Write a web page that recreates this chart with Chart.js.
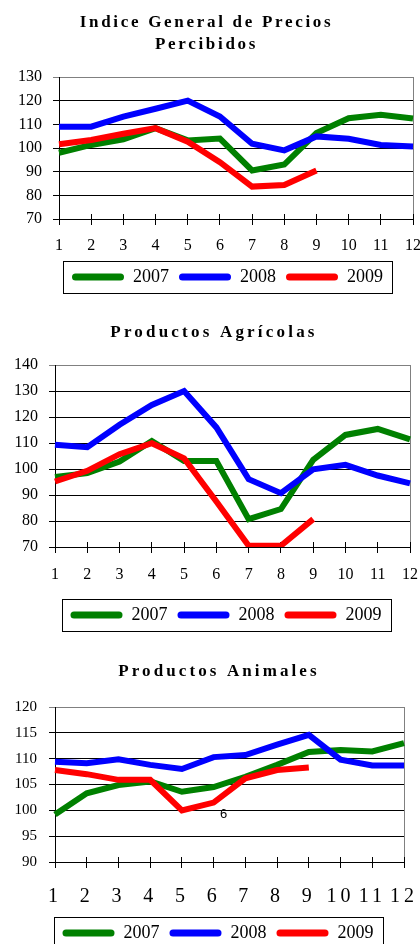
<!DOCTYPE html>
<html>
<head>
<meta charset="utf-8">
<script src="https://cdn.jsdelivr.net/npm/chart.js@4.4.1/dist/chart.umd.min.js"></script>
<style>
  body { margin: 0; background: #fff; width: 420px; height: 944px; overflow: hidden; position: relative; }
  .wrap { position: absolute; left: 0; width: 420px; }
</style>
</head>
<body>
<div class="wrap" style="top:0;height:305px"><canvas id="general"></canvas></div>
<div class="wrap" style="top:305px;height:330px"><canvas id="agricolas"></canvas></div>
<div class="wrap" style="top:635px;height:320px"><canvas id="animales"></canvas></div>
<script>
var months = ['1', '2', '3', '4', '5', '6', '7', '8', '9', '10', '11', '12'];
var years = ['2007', '2008', '2009'];
var colors = ['#008000', '#0000ff', '#ff0000'];

// Indice General de Precios Percibidos
var general2007 = [98, 101.3, 103.7, 108.4, 103.2, 104, 90.5, 93, 106.3, 112.6, 114, 112.5];
var general2008 = [109, 109, 113.3, 116.6, 120, 113.3, 101.8, 99, 104.9, 103.9, 101.3, 100.6];
var general2009 = [101.6, 103.4, 106, 108.4, 102.7, 94, 83.7, 84.4, 90.5, null, null, null];

// Productos Agricolas
var agri2007 = [96.9, 98.4, 102.9, 110.8, 103.1, 103.1, 80.7, 84.6, 103.5, 113.1, 115.4, 111.4];
var agri2008 = [109.3, 108.4, 117, 124.6, 130, 116, 96.1, 90.7, 99.9, 101.6, 97.5, 94.5];
var agri2009 = [95.2, 99.3, 105.7, 109.9, 104.1, 87.5, 70.5, 70.5, 80.7, null, null, null];

// Productos Animales
var anim2007 = [99.2, 103.3, 104.9, 105.6, 103.6, 104.5, 106.5, 108.8, 111.3, 111.7, 111.4, 113];
var anim2008 = [109.4, 109.1, 109.9, 108.8, 108, 110.3, 110.7, 112.7, 114.6, 109.8, 108.7, 108.7];
var anim2009 = [107.8, 107, 105.9, 105.9, 100, 101.5, 106.2, 107.8, 108.3, null, null, null];

var generalTicks = [70, 130, 10];
var agriTicks = [70, 140, 10];
var animTicks = [90, 120, 5];

Chart.defaults.font.family = 'Liberation Serif';
Chart.defaults.color = '#000';
Chart.defaults.animation = false;

function withSpacing(obj, fn, px) {
  if (!obj || !px || obj['_sp_' + fn]) return;
  var orig = obj[fn];
  obj[fn] = function () {
    var ctx = this.ctx;
    ctx.letterSpacing = px + 'px';
    orig.apply(this, arguments);
    ctx.letterSpacing = '0px';
  };
  obj['_sp_' + fn] = true;
}

// shifts title/legend sideways and adds letter spacing like the scanned original
var tweaks = {
  id: 'tweaks',
  afterLayout: function (chart, args, o) {
    if (o.title) { chart.titleBlock.left += o.title; chart.titleBlock.right += o.title; }
    if (o.legend) { chart.legend.left += o.legend; chart.legend.right += o.legend; }
    withSpacing(chart.titleBlock, 'draw', o.titleSpacing);
    withSpacing(chart.scales.x, 'drawLabels', o.xSpacing);
  },
  beforeDatasetsDraw: function (chart) {
    var a = chart.chartArea, ctx = chart.ctx, x = chart.scales.x;
    ctx.save();
    ctx.lineWidth = 1;
    ctx.strokeStyle = '#808080';
    var rx = Math.round(a.right - 0.5) + 0.5;
    ctx.beginPath();
    ctx.moveTo(rx, a.top);
    ctx.lineTo(rx, a.bottom);
    ctx.stroke();
    ctx.strokeStyle = '#000';
    ctx.beginPath();
    for (var i = 0; i < x.ticks.length; i++) {
      var px = Math.round(x.getPixelForTick(i) - 0.5) + 0.5;
      ctx.moveTo(px, a.bottom - 5);
      ctx.lineTo(px, a.bottom);
    }
    ctx.stroke();
    ctx.restore();
  },
  afterDraw: function (chart, args, o) {
    var boxes = chart.legend.legendHitBoxes, ctx = chart.ctx;
    if (boxes && boxes.length) {
      var l = Math.min.apply(null, boxes.map(function (b) { return b.left; }));
      var r = Math.max.apply(null, boxes.map(function (b) { return b.left + b.width; }));
      var t = boxes[0].top, h = boxes[0].height;
      ctx.save();
      ctx.strokeStyle = '#000';
      ctx.lineWidth = 1;
      ctx.strokeRect(Math.round(l - 9) + 0.5, Math.round(t - 7) + 0.5, Math.round(r - l + 18), Math.round(h + 14));
      ctx.restore();
    }
    if (o.note) {
      var xs = chart.scales.x, ys = chart.scales.y;
      ctx.save();
      ctx.font = '13px "Liberation Sans"';
      ctx.fillStyle = '#000';
      ctx.textAlign = 'center';
      ctx.textBaseline = 'middle';
      ctx.fillText(o.note.text, xs.getPixelForValue(o.note.x) + 10, ys.getPixelForValue(o.note.y));
      ctx.restore();
    }
  }
};

function makeChart(id, title, series, ticks, lay) {
  var datasets = series.map(function (values, i) {
    return {
      label: years[i],
      data: values,
      borderColor: colors[i],
      backgroundColor: colors[i],
      borderWidth: 6,
      pointRadius: 0,
      tension: 0,
      fill: false,
      order: 2 - i
    };
  });
  return new Chart(document.getElementById(id), {
    type: 'line',
    data: { labels: months, datasets: datasets },
    plugins: [tweaks],
    options: {
      responsive: true,
      maintainAspectRatio: false,
      layout: { padding: { left: 0, right: lay.right, top: 0, bottom: lay.bottom } },
      plugins: {
        tooltip: { enabled: false },
        title: {
          display: true,
          text: title,
          font: { size: 17, weight: 'bold', lineHeight: 1.25 },
          color: '#000',
          padding: { top: lay.titleTop, bottom: lay.titleBottom }
        },
        legend: {
          position: 'bottom',
          labels: {
            boxWidth: 52,
            boxHeight: 7,
            padding: 10,
            useBorderRadius: true,
            borderRadius: 3.5,
            font: { size: 18 },
            color: '#000',
            sort: function (a, b) { return a.datasetIndex - b.datasetIndex; },
            generateLabels: function (c) {
              return Chart.defaults.plugins.legend.labels.generateLabels(c).map(function (l) {
                l.lineWidth = 0;
                l.fillStyle = l.strokeStyle;
                return l;
              });
            }
          }
        },
        tweaks: lay.tweaks
      },
      scales: {
        x: {
          offset: false,
          grid: { drawOnChartArea: false, drawTicks: true, tickLength: 6, color: '#000' },
          border: { color: '#000', width: 1 },
          ticks: { font: { size: lay.xFont }, color: '#000', padding: lay.xPad, maxRotation: 0, autoSkip: false },
          afterFit: function (s) { s.height = lay.xHeight; s.paddingLeft = 0; s.paddingRight = 0; }
        },
        y: {
          min: ticks[0],
          max: ticks[1],
          grid: {
            color: function (c) { return c.tick && c.tick.value === ticks[1] ? '#808080' : '#000'; },
            tickLength: 6,
            lineWidth: 1
          },
          border: { color: '#000', width: 1 },
          ticks: { stepSize: ticks[2], font: { size: lay.yFont }, color: '#000', padding: lay.yPad },
          afterFit: function (s) { s.width = lay.yWidth; s.paddingTop = 0; s.paddingBottom = 0; }
        }
      }
    }
  });
}

makeChart('general', ['Indice General de Precios', 'Percibidos'],
  [general2007, general2008, general2009], generalTicks,
  { right: 7, bottom: 9, titleTop: 12.4, titleBottom: 22.1, xHeight: 39, xPad: 11, xFont: 16,
    yWidth: 59, yPad: 11, yFont: 16,
    tweaks: { title: 0, legend: 21, titleSpacing: 2.7 } });

makeChart('agricolas', 'Productos Agrícolas',
  [agri2007, agri2008, agri2009], agriTicks,
  { right: 10, bottom: 1, titleTop: 17.4, titleBottom: 21.35, xHeight: 49, xPad: 12, xFont: 16,
    yWidth: 55, yPad: 11, yFont: 16,
    tweaks: { title: 9, legend: 21, titleSpacing: 3.2 } });

makeChart('animales', 'Productos Animales',
  [anim2007, anim2008, anim2009], animTicks,
  { right: 16, bottom: 3, titleTop: 26.4, titleBottom: 24.35, xHeight: 52, xPad: 17, xFont: 20,
    yWidth: 55, yPad: 12, yFont: 15,
    tweaks: { title: 17, legend: 16, titleSpacing: 3.1, xSpacing: 4, note: { text: '6', x: 5, y: 99.2 } } });
</script>
</body>
</html>
